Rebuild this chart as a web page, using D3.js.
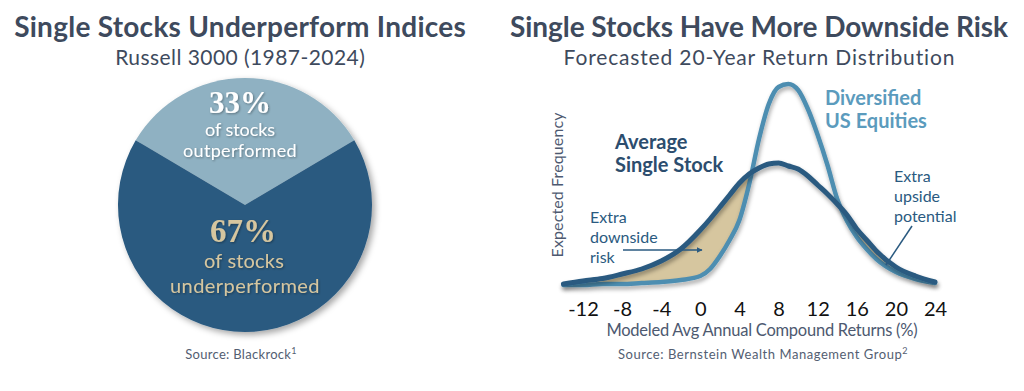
<!DOCTYPE html>
<html>
<head>
<meta charset="utf-8">
<script src="https://cdnjs.cloudflare.com/ajax/libs/d3/7.8.5/d3.min.js"></script>
<style>
  body { margin: 0; background: #fff; }
  svg { display: block; font-family: Lato, "Noto Sans", sans-serif; }
</style>
</head>
<body>
<div id="chart"></div>
<script>
// pie data
var pieLabels = ["outperformed", "underperformed"];
var pieValues = [33, 67];

// distribution data (returns in %, frequency in arbitrary units)
var returns = [-14, -12, -10, -8, -6, -4, -2, 0, 1, 2, 3, 4, 5, 6, 7, 8, 9, 10, 11, 12, 13, 14, 15, 16, 17, 18, 20, 22, 24];
var singleStock = [3, 6, 8.5, 13, 18, 26, 38, 57, 68, 80, 92, 104, 113, 119, 123, 124, 121, 118, 111, 102, 93, 83, 72, 58, 47, 36, 20, 11, 5];
var diversified = [2, 2, 3, 3, 4, 5, 7, 11, 18, 31, 47, 67, 103, 148, 183, 200, 203, 197, 178, 152, 122, 88, 66, 50, 38, 28, 15, 8, 4];
var tickValues = [-12, -8, -4, 0, 4, 8, 12, 16, 20, 24];

var svgWidth = 1024;
var svgHeight = 391;

var titleColor = "#3e4a5d";
var darkBlue = "#2a5a80";
var lightBlue = "#4e8eb1";
var paleBlue = "#8fb1c2";
var tan = "#d6c69f";

var svg = d3.select("#chart")
  .append("svg")
  .attr("width", svgWidth)
  .attr("height", svgHeight);

// stretch a text to a measured width with letter-spacing
function fitWidth(sel, target) {
  var node = sel.node();
  var len = node.getComputedTextLength();
  var n = node.textContent.length;
  var sp = (target - len) / n;
  sel.attr("letter-spacing", sp)
    .attr("dx", sel.attr("text-anchor") === "middle" ? sp / 2 : 0);
  return sel;
}

// shadows
var defs = svg.append("defs");
defs.append("filter")
  .attr("id", "shadow")
  .attr("x", "-20%").attr("y", "-20%")
  .attr("width", "140%").attr("height", "140%")
  .append("feDropShadow")
  .attr("dx", 3).attr("dy", 3)
  .attr("stdDeviation", 3)
  .attr("flood-opacity", 0.35);

defs.append("filter")
  .attr("id", "lineShadow")
  .attr("x", "-10%").attr("y", "-10%")
  .attr("width", "120%").attr("height", "130%")
  .append("feDropShadow")
  .attr("dx", 1).attr("dy", 3)
  .attr("stdDeviation", 2)
  .attr("flood-opacity", 0.35);

defs.append("filter")
  .attr("id", "textShadow")
  .append("feDropShadow")
  .attr("dx", 1).attr("dy", 1)
  .attr("stdDeviation", 1)
  .attr("flood-opacity", 0.35);

defs.append("marker")
  .attr("id", "arrow")
  .attr("viewBox", "0 0 10 10")
  .attr("refX", 9).attr("refY", 5)
  .attr("markerWidth", 4).attr("markerHeight", 4)
  .attr("orient", "auto")
  .append("path")
  .attr("d", "M0,0L10,5L0,10Z")
  .attr("fill", darkBlue);

// ---------------- Left panel ----------------
svg.append("text")
  .attr("x", 240).attr("y", 37)
  .attr("text-anchor", "middle")
  .attr("font-size", 28).attr("font-weight", 700)
  .attr("fill", titleColor)
  .text("Single Stocks Underperform Indices")
  .call(fitWidth, 452);

svg.append("text")
  .attr("x", 240).attr("y", 65)
  .attr("text-anchor", "middle")
  .attr("font-size", 21)
  .attr("fill", titleColor)
  .text("Russell 3000 (1987-2024)")
  .call(fitWidth, 250);

var pieGroup = svg.append("g")
  .attr("transform", "translate(245, 205)");

var pie = d3.pie()
  .sort(null)
  .startAngle(-Math.PI * 0.33)
  .endAngle(-Math.PI * 0.33 + Math.PI * 2);

var arc = d3.arc().innerRadius(0).outerRadius(127);

pieGroup.append("g")
  .attr("filter", "url(#shadow)")
  .selectAll("path")
  .data(pie(pieValues))
  .enter()
  .append("path")
  .attr("d", arc)
  .attr("fill", (d, i) => i === 0 ? paleBlue : darkBlue);

// slice labels
var upper = svg.append("g").attr("filter", "url(#textShadow)").attr("fill", "#fff").attr("text-anchor", "middle");
upper.append("text").attr("x", 240).attr("y", 113)
  .attr("font-family", "'Liberation Serif', 'DejaVu Serif', serif")
  .attr("font-weight", 700).attr("font-size", 31)
  .text(pieValues[0] + "%");
upper.append("text").attr("x", 240).attr("y", 136).attr("font-size", 18).text("of stocks").call(fitWidth, 70);
upper.append("text").attr("x", 240).attr("y", 157).attr("font-size", 18).text(pieLabels[0]).call(fitWidth, 114);

var lower = svg.append("g").attr("filter", "url(#textShadow)").attr("fill", tan).attr("text-anchor", "middle");
lower.append("text").attr("x", 243).attr("y", 242)
  .attr("font-family", "'Liberation Serif', 'DejaVu Serif', serif")
  .attr("font-weight", 700).attr("font-size", 33)
  .text(pieValues[1] + "%");
lower.append("text").attr("x", 244).attr("y", 268).attr("font-size", 20).text("of stocks").call(fitWidth, 80);
lower.append("text").attr("x", 245).attr("y", 293).attr("font-size", 20).text(pieLabels[1]).call(fitWidth, 150);

svg.append("text")
  .attr("x", 241).attr("y", 359)
  .attr("text-anchor", "middle")
  .attr("font-size", 13).attr("letter-spacing", 0.3)
  .attr("fill", "#535e72")
  .html("Source: Blackrock<tspan dy='-5' font-size='9'>1</tspan>");

// ---------------- Right panel ----------------
svg.append("text")
  .attr("x", 759).attr("y", 37)
  .attr("text-anchor", "middle")
  .attr("font-size", 28).attr("font-weight", 700)
  .attr("fill", titleColor)
  .text("Single Stocks Have More Downside Risk")
  .call(fitWidth, 498);

svg.append("text")
  .attr("x", 759).attr("y", 65)
  .attr("text-anchor", "middle")
  .attr("font-size", 21)
  .attr("fill", titleColor)
  .text("Forecasted 20-Year Return Distribution")
  .call(fitWidth, 392);

var x = d3.scaleLinear().domain([-12, 24]).range([583, 935]);
var y = d3.scaleLinear().domain([0, 210]).range([287, 77]);

var points = returns.map((r, i) => ({ r: r, s: singleStock[i], d: diversified[i] }));

// shaded area where single stock sits above diversified
var area = d3.area()
  .x(d => x(d.r))
  .y0(d => y(d.d))
  .y1(d => y(Math.max(d.s, d.d)))
  .curve(d3.curveMonotoneX);

svg.append("path")
  .datum(points)
  .attr("d", area)
  .attr("fill", tan);

var lineDiv = d3.line()
  .x(d => x(d.r))
  .y(d => y(d.d))
  .curve(d3.curveMonotoneX);

var lineSingle = d3.line()
  .x(d => x(d.r))
  .y(d => y(d.s))
  .curve(d3.curveMonotoneX);

svg.append("path")
  .datum(points)
  .attr("d", lineDiv)
  .attr("fill", "none")
  .attr("stroke", lightBlue)
  .attr("stroke-width", 4.5)
  .attr("stroke-linecap", "round")
  .attr("filter", "url(#lineShadow)");

svg.append("path")
  .datum(points)
  .attr("d", lineSingle)
  .attr("fill", "none")
  .attr("stroke", darkBlue)
  .attr("stroke-width", 5)
  .attr("stroke-linecap", "round")
  .attr("filter", "url(#lineShadow)");

// baseline
svg.append("line")
  .attr("x1", x(-14)).attr("x2", x(24.2))
  .attr("y1", 288).attr("y2", 288)
  .attr("stroke", "#111")
  .attr("stroke-width", 4)
  .attr("filter", "url(#lineShadow)");

// x axis tick labels
var xAxis = svg.append("g")
  .attr("transform", "translate(0, 288)")
  .call(d3.axisBottom(x).tickValues(tickValues).tickSize(0).tickFormat(d => String(d)));
xAxis.select(".domain").remove();
xAxis.selectAll("text")
  .attr("y", 28).attr("dy", 0)
  .attr("font-family", "Lato, sans-serif")
  .attr("font-size", 20)
  .attr("fill", "#111");

svg.append("text")
  .attr("x", 762).attr("y", 336)
  .attr("text-anchor", "middle")
  .attr("font-size", 16.5)
  .attr("fill", "#4d5970")
  .text("Modeled Avg Annual Compound Returns (%)")
  .call(fitWidth, 311);

svg.append("text")
  .attr("transform", "translate(563, 185) rotate(-90)")
  .attr("text-anchor", "middle")
  .attr("font-size", 16)
  .attr("fill", "#4d5970")
  .text("Expected Frequency")
  .call(fitWidth, 145);

svg.append("text")
  .attr("x", 763).attr("y", 359)
  .attr("text-anchor", "middle")
  .attr("font-size", 13).attr("letter-spacing", 0.55)
  .attr("fill", "#535e72")
  .html("Source: Bernstein Wealth Management Group<tspan dy='-5' font-size='9'>2</tspan>");

// curve labels
var avgLabel = svg.append("text")
  .attr("font-size", 20).attr("font-weight", 700)
  .attr("fill", "#2c4d6e");
avgLabel.append("tspan").attr("x", 615).attr("y", 149).text("Average");
avgLabel.append("tspan").attr("x", 615).attr("y", 172).text("Single Stock");

var divLabel = svg.append("text")
  .attr("font-size", 20).attr("font-weight", 700)
  .attr("fill", "#5b9bbd");
divLabel.append("tspan").attr("x", 825).attr("y", 105).text("Diversified");
divLabel.append("tspan").attr("x", 825).attr("y", 128).text("US Equities");

var downLabel = svg.append("text")
  .attr("font-size", 16)
  .attr("fill", darkBlue);
downLabel.append("tspan").attr("x", 590).attr("y", 223).text("Extra");
downLabel.append("tspan").attr("x", 590).attr("y", 243).text("downside");
downLabel.append("tspan").attr("x", 590).attr("y", 263).text("risk");

var upLabel = svg.append("text")
  .attr("font-size", 16)
  .attr("fill", darkBlue);
upLabel.append("tspan").attr("x", 894).attr("y", 182).text("Extra");
upLabel.append("tspan").attr("x", 894).attr("y", 202).text("upside");
upLabel.append("tspan").attr("x", 894).attr("y", 222).text("potential");

// arrows
svg.append("line")
  .attr("x1", 623).attr("y1", 250)
  .attr("x2", 702).attr("y2", 250)
  .attr("stroke", darkBlue).attr("stroke-width", 1.5)
  .attr("marker-end", "url(#arrow)");

svg.append("line")
  .attr("x1", 912).attr("y1", 226)
  .attr("x2", 886).attr("y2", 265)
  .attr("stroke", darkBlue).attr("stroke-width", 1.5)
  .attr("marker-end", "url(#arrow)");
</script>
</body>
</html>
